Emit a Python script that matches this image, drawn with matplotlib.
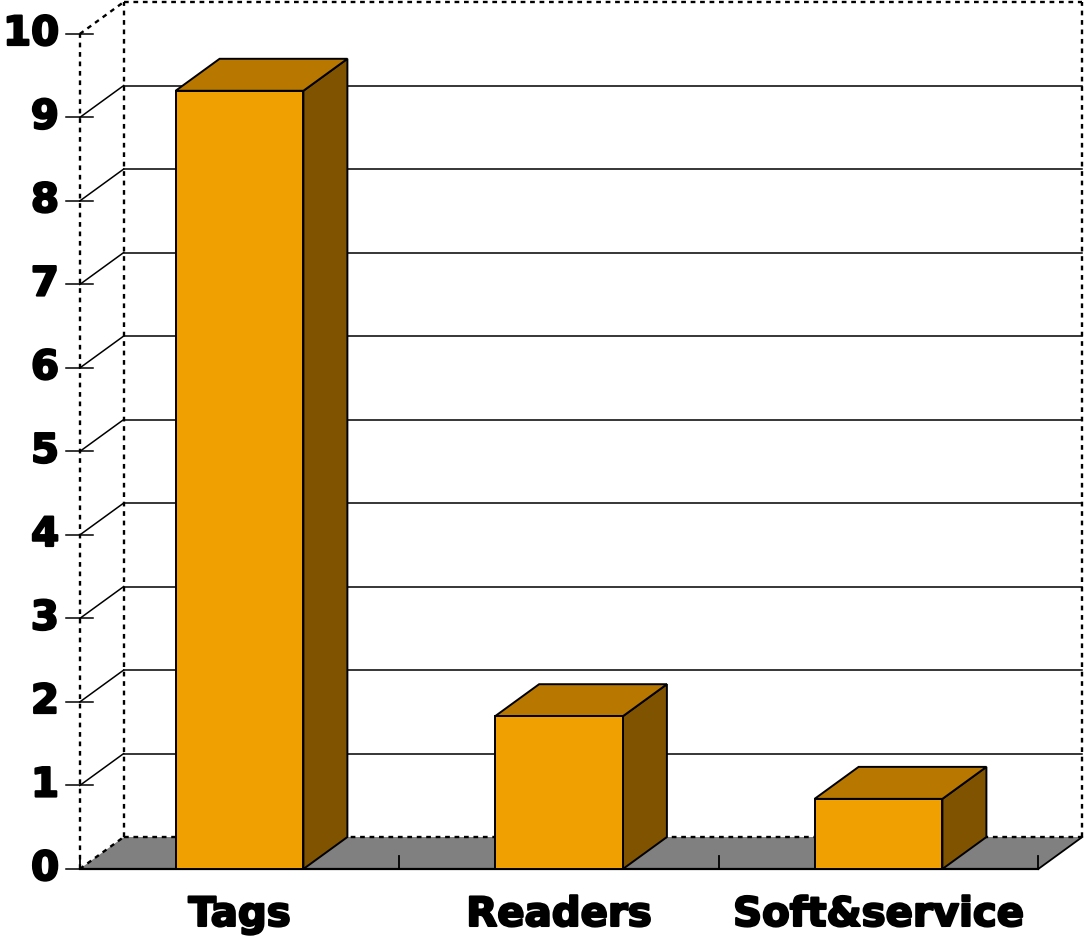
import matplotlib
matplotlib.use('Agg')
import matplotlib.pyplot as plt
import matplotlib.patheffects as pe
from matplotlib.patches import Polygon

categories = ['Tags', 'Readers', 'Soft&service']
values = [9.32, 1.83, 0.84]
yticks = list(range(0, 11))

front_col = '#F0A000'
top_col = '#B87800'
side_col = '#7F5300'
floor_col = '#808080'

# 3d look: depth offset in data units
dx, dy = 0.1377, 0.383
bw = 0.4
x0, x1 = -0.5, len(categories) - 0.5
dash = (0, (2, 2))
heavy = [pe.withStroke(linewidth=1.6, foreground='black')]

fig = plt.figure(figsize=(10.85, 9.37), dpi=100)
ax = fig.add_axes([0, 0, 1, 1])
ax.set_xlim(-0.7496, 2.6463)
ax.set_ylim(-0.8024, 10.419)
ax.axis('off')

# back wall
for v in yticks[1:-1]:
    ax.plot([x0 + dx, x1 + dx], [v + dy, v + dy], color='black', lw=1.1, zorder=1)
    ax.plot([x0, x0 + dx], [v, v + dy], color='black', lw=1.1, zorder=1)
top = yticks[-1]
ax.plot([x0 + dx, x1 + dx], [top + dy, top + dy], color='black', lw=1.7, ls=dash, zorder=1)
ax.plot([x0, x0 + dx], [top, top + dy], color='black', lw=1.7, ls=dash, zorder=1)
ax.plot([x0 + dx, x0 + dx], [dy, top + dy], color='black', lw=1.7, ls=dash, zorder=1)
ax.plot([x1 + dx, x1 + dx], [dy, top + dy], color='black', lw=1.7, ls=dash, zorder=1)
ax.plot([x0, x0], [0, top], color='black', lw=1.7, ls=dash, zorder=1)

# y ticks + labels
for v in yticks:
    ax.plot([x0 - 0.042, x0 + 0.04], [v, v], color='black', lw=1.1, zorder=2)
    ax.text(x0 - 0.065, v, str(v), ha='right', va='center', fontsize=29,
            fontweight='heavy', family='DejaVu Sans', path_effects=heavy)

# floor
floor = Polygon([(x0, 0), (x1, 0), (x1 + dx, dy), (x0 + dx, dy)], closed=True,
                facecolor=floor_col, edgecolor='none', zorder=2)
ax.add_patch(floor)
ax.plot([x0, x1], [0, 0], color='black', lw=1.6, zorder=3)
ax.plot([x0 + dx, x1 + dx], [dy, dy], color='black', lw=1.7, ls=dash, zorder=3)
ax.plot([x0, x0 + dx], [0, dy], color='black', lw=1.7, ls=dash, zorder=3)
ax.plot([x1, x1 + dx], [0, dy], color='black', lw=1.3, zorder=3)
for b in range(len(categories) + 1):
    xb = x0 + b
    ax.plot([xb, xb], [0, 0.16], color='black', lw=1.3, zorder=3)

# bars
for i, (cat, v) in enumerate(zip(categories, values)):
    l, r = i - bw / 2, i + bw / 2
    front = Polygon([(l, 0), (r, 0), (r, v), (l, v)], closed=True,
                    facecolor=front_col, edgecolor='black', lw=1.4, zorder=5)
    side = Polygon([(r, 0), (r + dx, dy), (r + dx, v + dy), (r, v)], closed=True,
                   facecolor=side_col, edgecolor='black', lw=1.4, zorder=4)
    topf = Polygon([(l, v), (r, v), (r + dx, v + dy), (l + dx, v + dy)], closed=True,
                   facecolor=top_col, edgecolor='black', lw=1.4, zorder=4)
    for p in (side, topf, front):
        ax.add_patch(p)
    ax.text(i, -0.55, cat, ha='center', va='center', fontsize=29,
            fontweight='heavy', family='DejaVu Sans', path_effects=heavy)

fig.savefig('out.png', dpi=100)
